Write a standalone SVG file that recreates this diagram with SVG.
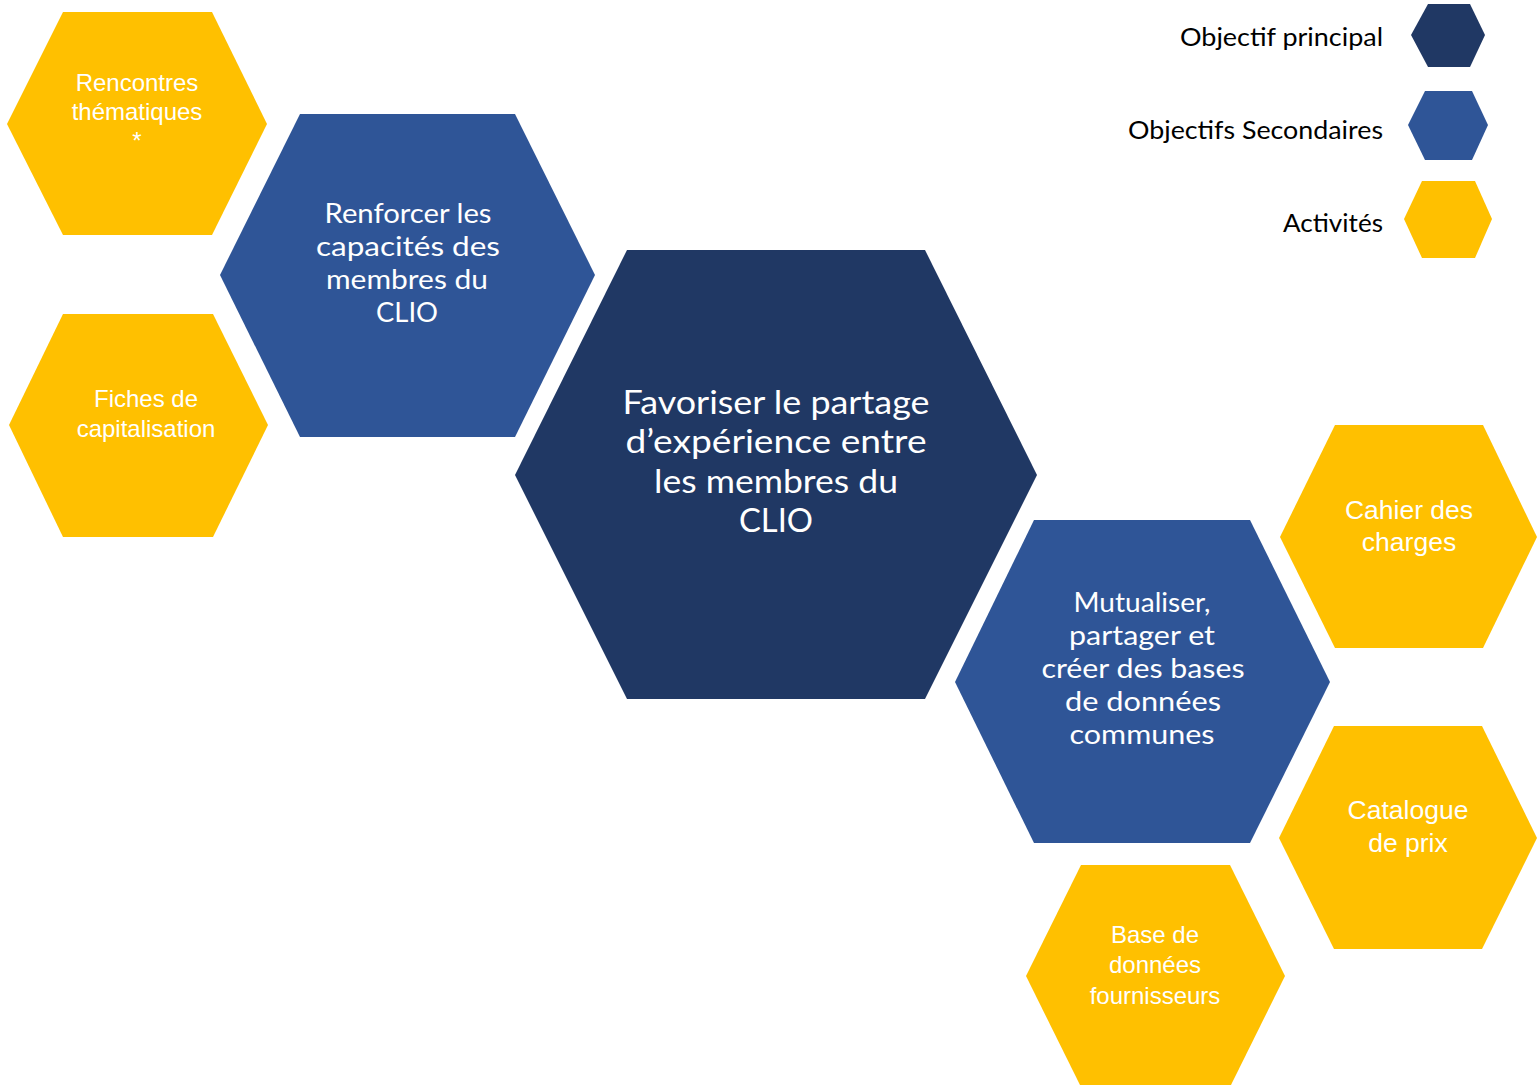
<svg xmlns="http://www.w3.org/2000/svg" width="1537" height="1085" viewBox="0 0 1537 1085">
<style>
.main{fill:#203864}
.sec{fill:#2F5597}
.act{fill:#FFC000}
.tm{font-family:Lato,"Noto Sans",sans-serif;fill:#fff;text-anchor:middle}
.t26{font-size:26px}
.t32{font-size:32px}
.ta{font-family:"Liberation Sans",Arial,sans-serif;fill:#fff;text-anchor:middle;font-size:24px}
.ta2{font-family:"Liberation Sans",Arial,sans-serif;fill:#fff;text-anchor:middle;font-size:26.5px}
.tl{font-family:Lato,"Noto Sans",sans-serif;fill:#000;text-anchor:end;font-size:25px}
</style>
<rect width="1537" height="1085" fill="#fff"/>
<g id="connectors"/>
<g id="rencontres">
<polygon class="act" points="63,12 212,12 267,124 212,235 63,235 7,124"/>
<text class="ta" x="137" y="91">Rencontres</text>
<text class="ta" x="137" y="120">thématiques</text>
<text class="ta" x="137" y="149">*</text>
</g>
<g id="fiches">
<polygon class="act" points="63,314 213,314 268,425 213,537 63,537 9,425"/>
<text class="ta" x="146" y="407">Fiches de</text>
<text class="ta" x="146" y="437">capitalisation</text>
</g>
<g id="renforcer">
<polygon class="sec" points="300,114 515,114 595,275 515,437 300,437 220,275"/>
<text class="tm t26" x="408" y="223" textLength="167" lengthAdjust="spacingAndGlyphs">Renforcer les</text>
<text class="tm t26" x="408" y="256" textLength="184" lengthAdjust="spacingAndGlyphs">capacités des</text>
<text class="tm t26" x="407" y="289" textLength="162" lengthAdjust="spacingAndGlyphs">membres du</text>
<text class="tm t26" x="407" y="322" textLength="62" lengthAdjust="spacingAndGlyphs">CLIO</text>
</g>
<g id="principal">
<polygon class="main" points="627,250 925,250 1037,475 925,699 627,699 515,475"/>
<text class="tm t32" x="776" y="414" textLength="307" lengthAdjust="spacingAndGlyphs">Favoriser le partage</text>
<text class="tm t32" x="776" y="453" textLength="301" lengthAdjust="spacingAndGlyphs">d’expérience entre</text>
<text class="tm t32" x="776" y="493" textLength="244" lengthAdjust="spacingAndGlyphs">les membres du</text>
<text class="tm t32" x="776" y="532" textLength="74" lengthAdjust="spacingAndGlyphs">CLIO</text>
</g>
<g id="mutualiser">
<polygon class="sec" points="1034,520 1250,520 1330,682 1250,843 1034,843 955,682"/>
<text class="tm t26" x="1142" y="612" textLength="137" lengthAdjust="spacingAndGlyphs">Mutualiser,</text>
<text class="tm t26" x="1142" y="645" textLength="146" lengthAdjust="spacingAndGlyphs">partager et</text>
<text class="tm t26" x="1143" y="678" textLength="203" lengthAdjust="spacingAndGlyphs">créer des bases</text>
<text class="tm t26" x="1143" y="711" textLength="156" lengthAdjust="spacingAndGlyphs">de données</text>
<text class="tm t26" x="1142" y="744" textLength="145" lengthAdjust="spacingAndGlyphs">communes</text>
</g>
<g id="cahier">
<polygon class="act" points="1335,425 1483,425 1537,537 1483,648 1335,648 1280,537"/>
<text class="ta2" x="1409" y="519">Cahier des</text>
<text class="ta2" x="1409" y="551">charges</text>
</g>
<g id="catalogue">
<polygon class="act" points="1334,726 1482,726 1537,838 1482,949 1334,949 1279,838"/>
<text class="ta2" x="1408" y="819">Catalogue</text>
<text class="ta2" x="1408" y="852">de prix</text>
</g>
<g id="base">
<polygon class="act" points="1081,865 1230,865 1285,976 1230,1087 1081,1087 1026,976"/>
<text class="ta" x="1155" y="943">Base de</text>
<text class="ta" x="1155" y="973">données</text>
<text class="ta" x="1155" y="1004">fournisseurs</text>
</g>
<g id="legend">
<g id="legend-principal">
<polygon class="main" points="1428,4 1470,4 1485,35 1470,67 1428,67 1411,35"/>
<text class="tl" x="1383" y="46" textLength="203" lengthAdjust="spacingAndGlyphs">Objectif principal</text>
</g>
<g id="legend-secondaires">
<polygon class="sec" points="1425,91 1472,91 1488,125 1472,160 1425,160 1408,125"/>
<text class="tl" x="1383" y="139" textLength="255" lengthAdjust="spacingAndGlyphs">Objectifs Secondaires</text>
</g>
<g id="legend-activites">
<polygon class="act" points="1422,181 1475,181 1492,219 1475,258 1422,258 1404,219"/>
<text class="tl" x="1383" y="232" textLength="100" lengthAdjust="spacingAndGlyphs">Activités</text>
</g>
</g>
</svg>
